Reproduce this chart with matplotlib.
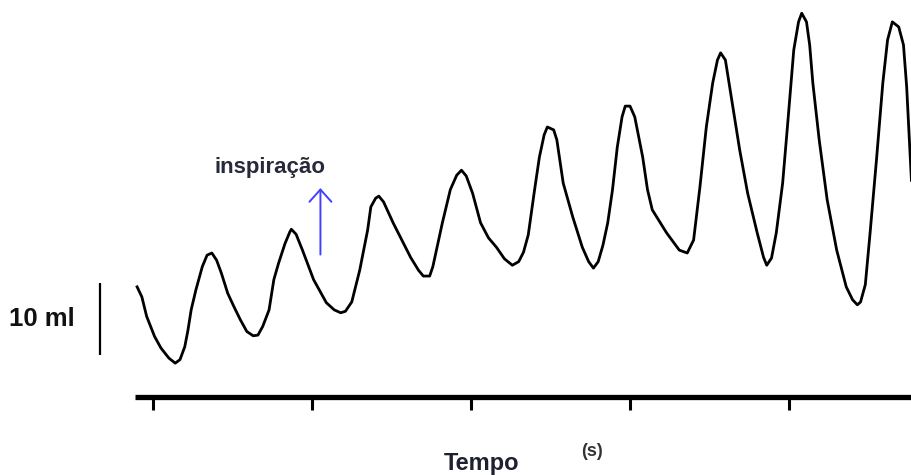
import numpy as np
import matplotlib
matplotlib.use("Agg")
import matplotlib.pyplot as plt

plt.rcParams['font.family'] = ['Liberation Sans', 'DejaVu Sans']

# volume trace (time in s, volume in ml above the time axis)
tempo = [-0.10, -0.07, -0.04, 0.01, 0.05, 0.10, 0.14, 0.17, 0.20, 0.22,
         0.24, 0.27, 0.31, 0.34, 0.37, 0.40, 0.43, 0.47, 0.51, 0.55,
         0.59, 0.63, 0.66, 0.69, 0.73, 0.76, 0.79, 0.83, 0.86, 0.87,
         0.90, 0.94, 1.01, 1.09, 1.14, 1.18, 1.21, 1.25, 1.30, 1.35,
         1.37, 1.40, 1.42, 1.45, 1.51, 1.62, 1.67, 1.70, 1.74, 1.76,
         1.82, 1.87, 1.91, 1.94, 1.97, 2.01, 2.06, 2.11, 2.16, 2.21,
         2.26, 2.30, 2.33, 2.36, 2.40, 2.43, 2.46, 2.48, 2.52, 2.54,
         2.58, 2.64, 2.70, 2.74, 2.77, 2.80, 2.83, 2.86, 2.89, 2.92,
         2.95, 2.97, 3.00, 3.03, 3.08, 3.11, 3.14, 3.23, 3.31, 3.36,
         3.40, 3.44, 3.48, 3.52, 3.55, 3.57, 3.60, 3.65, 3.69, 3.74,
         3.80, 3.84, 3.86, 3.89, 3.92, 3.96, 3.99, 4.03, 4.06, 4.08,
         4.11, 4.13, 4.15, 4.19, 4.24, 4.30, 4.36, 4.40, 4.43, 4.45,
         4.48, 4.51, 4.55, 4.59, 4.62, 4.65, 4.69, 4.72, 4.74, 4.77]
volume = [15.3, 13.9, 11.2, 8.4, 6.8, 5.4, 4.7, 5.2, 7.0, 9.3,
          12.1, 14.9, 18.1, 19.7, 20.0, 19.0, 17.2, 14.4, 12.5, 10.7,
          9.1, 8.5, 8.6, 9.8, 12.1, 16.3, 18.6, 21.3, 22.9, 23.3,
          22.6, 20.4, 16.3, 13.1, 12.1, 11.7, 11.9, 13.2, 17.6, 23.2,
          26.4, 27.6, 27.9, 27.1, 24.2, 19.4, 17.6, 16.8, 16.8, 18.1,
          24.2, 28.8, 30.8, 31.5, 30.7, 28.3, 24.2, 22.1, 20.8, 19.2,
          18.3, 18.8, 20.1, 22.5, 28.8, 33.3, 36.4, 37.5, 37.1, 35.7,
          29.7, 25.0, 20.8, 18.8, 17.9, 18.8, 21.1, 24.2, 28.8, 34.7,
          38.9, 40.4, 40.4, 38.9, 33.3, 28.8, 26.0, 22.8, 20.4, 20.0,
          21.8, 29.2, 37.5, 43.6, 46.8, 47.8, 46.8, 39.9, 34.3, 28.3,
          22.8, 19.4, 18.3, 19.3, 22.8, 29.7, 37.5, 48.2, 52.1, 53.3,
          52.1, 48.9, 43.6, 35.7, 27.4, 20.4, 15.3, 13.5, 12.8, 13.2,
          15.6, 22.8, 32.9, 43.6, 49.6, 52.1, 51.4, 48.9, 43.1, 30.1]

ticks = [0, 1, 2, 3, 4]
escala = [5.8, 15.8]  # 10 ml bar

fig = plt.figure(figsize=(9.12, 4.75), dpi=100)
ax = fig.add_axes([0, 0, 1, 1])
ax.set_xlim(-0.9623, 4.7736)
ax.set_ylim(-10.833, 55.139)
ax.axis('off')

ax.plot(tempo, volume, color='black', lw=2.0)

# time axis
ax.hlines(0, -0.113, 4.78, color='black', lw=3.8)
ax.vlines(ticks, -1.8, 0, color='black', lw=2.2)

# scale bar
ax.vlines(-0.333, escala[0], escala[1], color='black', lw=1.6)
ax.text(-0.70, 10.9, '10 ml', fontsize=18.5, fontweight='bold',
        ha='center', va='center', color='#111111')

# inspiration arrow
ax.annotate('', xy=(1.053, 29.4), xytext=(1.053, 19.4),
            arrowprops=dict(arrowstyle='->,head_width=0.36,head_length=0.4',
                            color='#4040ff', lw=1.4, mutation_scale=22))
ax.text(0.733, 31.9, 'inspiração', fontsize=16, fontweight='bold',
        ha='center', va='center', color='#262a3a')

ax.text(2.063, -9.3, 'Tempo', fontsize=17, fontweight='bold',
        ha='center', va='center', color='#1e2030')
ax.text(2.761, -7.6, '(s)', fontsize=13, fontweight='bold',
        ha='center', va='center', color='#333333')

fig.savefig('out.png', dpi=100)
